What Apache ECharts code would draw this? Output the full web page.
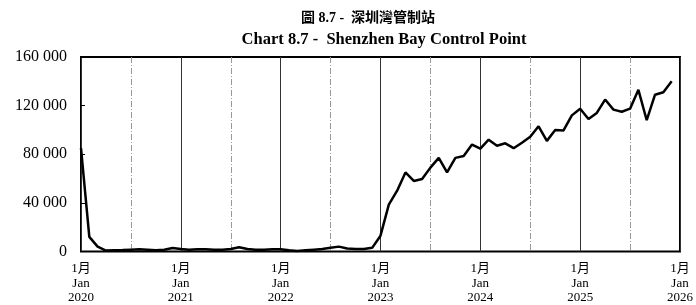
<!DOCTYPE html>
<html>
<head>
<meta charset="utf-8">
<script src="https://cdn.jsdelivr.net/npm/echarts@6/dist/echarts.min.js"></script>
<style>
  html, body { margin: 0; padding: 0; background: #fff; }
  #chart { width: 696px; height: 305px; }
</style>
</head>
<body>
<div id="chart"></div>
<script>
// 月度數據：2020年1月 至 2025年12月（索引 0 = 2020年1月）
const yearTicks = [2020, 2021, 2022, 2023, 2024, 2025, 2026];

const v2020 = [85000, 12000, 4000, 800, 1000, 1200, 1500, 1800, 1500, 1000, 1500, 2800];
const v2021 = [2000, 1500, 1800, 1800, 1500, 1500, 2000, 3500, 2000, 1500, 1500, 1800];
const v2022 = [1800, 1000, 500, 1000, 1500, 2000, 3000, 4000, 2500, 2000, 2000, 3000];
const v2023 = [13000, 38600, 50000, 65000, 58000, 59600, 69000, 77000, 65000, 77000, 78600, 88000];
const v2024 = [84600, 92000, 87000, 89000, 85000, 89500, 94400, 103000, 91000, 100000, 99600, 112000];
const v2025 = [117500, 109000, 114000, 125000, 116700, 115000, 117500, 133000, 108000, 129000, 131000, 140000];

const monthly = [].concat(v2020, v2021, v2022, v2023, v2024, v2025);
const seriesData = monthly.map((v, i) => [i, v]);

const serif = '"Liberation Serif", "Times New Roman", serif';

let chartDom = document.getElementById('chart');
let myChart = echarts.init(chartDom);
let option = {
    animation: false,
    backgroundColor: '#fff',
    // 標題用 graphic 放，方便對齊
    graphic: [
        {
            type: 'text', x: 368, y: 18,
            style: {
                text: '圖 8.7 -  深圳灣管制站',
                font: 'bold 14px "Liberation Serif", "Noto Sans CJK TC", serif',
                fill: '#000', align: 'center', verticalAlign: 'middle'
            }
        },
        {
            type: 'text', x: 384, y: 40,
            style: {
                text: 'Chart 8.7 -  Shenzhen Bay Control Point',
                font: 'bold 16.5px "Liberation Serif", serif',
                fill: '#000', align: 'center', verticalAlign: 'middle'
            }
        }
    ],
    grid: {
        left: 81, right: 8, top: 57, bottom: 52,
        show: true, borderColor: '#000', borderWidth: 2
    },
    xAxis: {
        type: 'value',
        min: 0, max: 72, interval: 12,
        axisLine: { show: false },
        axisTick: { show: false },
        minorTick: { show: false, splitNumber: 2 },
        splitLine: { show: true, lineStyle: { color: '#333', width: 1 } },
        minorSplitLine: { show: true, lineStyle: { color: '#999', width: 1, type: [6, 2, 1, 2] } },
        axisLabel: {
            fontFamily: '"Liberation Serif", "Noto Sans CJK TC", serif',
            fontSize: 13,
            lineHeight: 14.5,
            color: '#000',
            margin: 10,
            formatter: (v) => '1月\nJan\n' + yearTicks[v / 12]
        }
    },
    yAxis: {
        type: 'value',
        min: 0, max: 160000, interval: 40000,
        axisLine: { show: false },
        axisTick: { show: true, inside: true, length: 4, lineStyle: { color: '#000' } },
        splitLine: { show: false },
        axisLabel: {
            fontFamily: serif,
            fontSize: 16,
            color: '#000',
            margin: 14,
            formatter: (v) => v === 0 ? '0' : String(v).replace(/\B(?=(\d{3})+(?!\d))/g, ' ')
        }
    },
    series: [{
        type: 'line',
        data: seriesData,
        showSymbol: false,
        lineStyle: { color: '#000', width: 2.5 },
        z: 5
    }]
};
option && myChart.setOption(option);
</script>
</body>
</html>
